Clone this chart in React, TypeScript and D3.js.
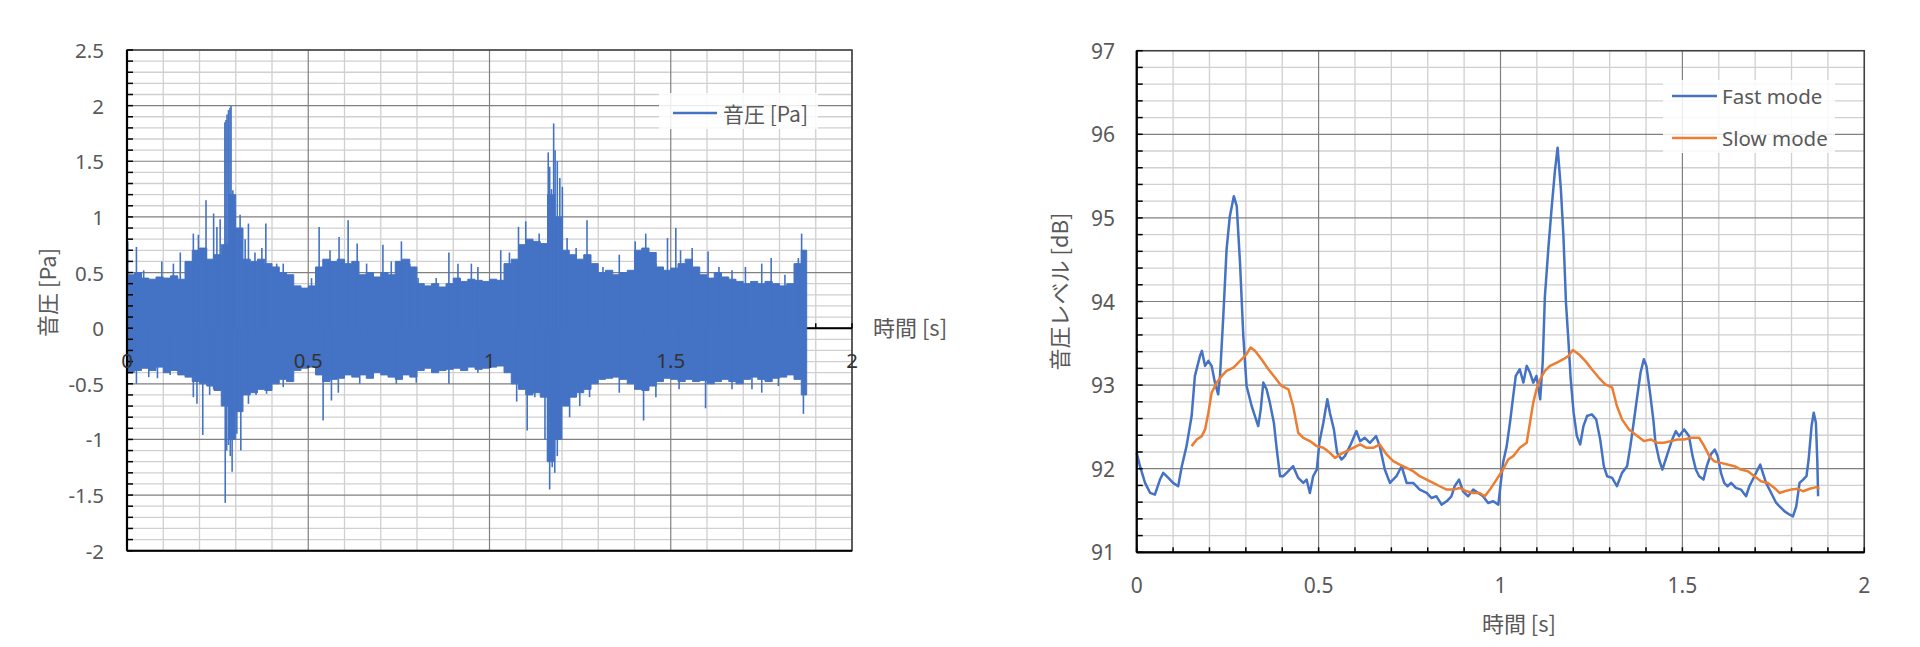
import React from 'react';
import * as d3 from 'd3';

// ---------- Left chart: 音圧 [Pa] waveform (envelope read per 0.02 s bin + individual peaks) ----------
const ENV_T = [
  0.00, 0.02, 0.04, 0.06, 0.08, 0.10, 0.12, 0.14, 0.16, 0.18,
  0.20, 0.22, 0.24, 0.26, 0.28, 0.30, 0.32, 0.34, 0.36, 0.38,
  0.40, 0.42, 0.44, 0.46, 0.48, 0.50, 0.52, 0.54, 0.56, 0.58,
  0.60, 0.62, 0.64, 0.66, 0.68, 0.70, 0.72, 0.74, 0.76, 0.78,
  0.80, 0.82, 0.84, 0.86, 0.88, 0.90, 0.92, 0.94, 0.96, 0.98,
  1.00, 1.02, 1.04, 1.06, 1.08, 1.10, 1.12, 1.14, 1.16, 1.18,
  1.20, 1.22, 1.24, 1.26, 1.28, 1.30, 1.32, 1.34, 1.36, 1.38,
  1.40, 1.42, 1.44, 1.46, 1.48, 1.50, 1.52, 1.54, 1.56, 1.58,
  1.60, 1.62, 1.64, 1.66, 1.68, 1.70, 1.72, 1.74, 1.76, 1.78,
  1.80, 1.82, 1.84, 1.86, 1.875,
];
const ENV_UP = [
  0.48, 0.50, 0.45, 0.44, 0.46, 0.45, 0.47, 0.44, 0.60, 0.70,
  0.72, 0.62, 0.66, 0.75, 1.20, 0.90, 0.62, 0.60, 0.62, 0.58,
  0.55, 0.50, 0.48, 0.38, 0.36, 0.38, 0.55, 0.62, 0.60, 0.62,
  0.58, 0.60, 0.48, 0.50, 0.46, 0.50, 0.48, 0.60, 0.62, 0.55,
  0.40, 0.38, 0.40, 0.37, 0.40, 0.45, 0.42, 0.44, 0.43, 0.42,
  0.44, 0.43, 0.58, 0.62, 0.75, 0.80, 0.78, 0.76, 1.20, 1.00,
  0.70, 0.66, 0.62, 0.66, 0.58, 0.50, 0.52, 0.48, 0.50, 0.52,
  0.70, 0.72, 0.68, 0.55, 0.52, 0.54, 0.58, 0.62, 0.55, 0.48,
  0.45, 0.50, 0.46, 0.44, 0.42, 0.40, 0.42, 0.40, 0.42, 0.40,
  0.38, 0.40, 0.58, 0.70, 0.62,
];
const ENV_DN = [
  -0.40, -0.38, -0.36, -0.38, -0.35, -0.40, -0.38, -0.42, -0.44, -0.48,
  -0.50, -0.52, -0.56, -0.70, -1.00, -0.75, -0.60, -0.58, -0.55, -0.56,
  -0.50, -0.46, -0.48, -0.38, -0.36, -0.35, -0.42, -0.48, -0.46, -0.45,
  -0.42, -0.44, -0.42, -0.45, -0.40, -0.42, -0.44, -0.46, -0.42, -0.44,
  -0.38, -0.36, -0.40, -0.38, -0.37, -0.36, -0.38, -0.35, -0.37, -0.36,
  -0.35, -0.34, -0.40, -0.50, -0.55, -0.60, -0.58, -0.62, -1.20, -1.00,
  -0.70, -0.62, -0.58, -0.55, -0.50, -0.46, -0.45, -0.44, -0.46, -0.50,
  -0.55, -0.56, -0.52, -0.48, -0.45, -0.46, -0.48, -0.46, -0.48, -0.47,
  -0.50, -0.48, -0.46, -0.48, -0.50, -0.46, -0.44, -0.46, -0.48, -0.45,
  -0.44, -0.42, -0.46, -0.60, -0.55,
];
const PEAK_UP_T = [
  0.002, 0.026, 0.046, 0.096, 0.128, 0.147, 0.183, 0.197, 0.218, 0.239,
  0.248, 0.257, 0.270, 0.273, 0.276, 0.280, 0.284, 0.287, 0.292, 0.298,
  0.312, 0.326, 0.335, 0.353, 0.372, 0.383, 0.413, 0.431, 0.509, 0.530,
  0.560, 0.585, 0.610, 0.635, 0.661, 0.706, 0.729, 0.757, 0.780, 0.803,
  0.853, 0.888, 0.913, 0.950, 0.968, 1.031, 1.055, 1.080, 1.100, 1.121,
  1.137, 1.162, 1.166, 1.171, 1.177, 1.181, 1.187, 1.194, 1.201, 1.214,
  1.239, 1.269, 1.290, 1.313, 1.358, 1.402, 1.431, 1.459, 1.491, 1.514,
  1.527, 1.559, 1.603, 1.633, 1.669, 1.706, 1.751, 1.777, 1.815, 1.852,
  1.861,
];
const PEAK_UP_V = [
  0.78, 0.73, 0.52, 0.60, 0.58, 0.68, 0.85, 0.84, 1.15, 1.03,
  0.91, 0.98, 1.85, 1.87, 1.92, 1.96, 1.98, 2.00, 1.24, 1.06,
  1.02, 0.80, 0.94, 0.68, 0.72, 0.94, 0.58, 0.58, 0.45, 0.91,
  0.70, 0.82, 0.97, 0.76, 0.58, 0.75, 0.60, 0.78, 0.58, 0.45,
  0.45, 0.68, 0.58, 0.58, 0.55, 0.70, 0.68, 0.91, 0.96, 0.78,
  0.85, 1.58, 1.45, 1.25, 1.84, 1.60, 1.50, 1.35, 1.27, 0.81,
  0.72, 0.97, 0.58, 0.55, 0.66, 0.78, 0.85, 0.58, 0.81, 0.90,
  0.70, 0.72, 0.69, 0.55, 0.52, 0.55, 0.58, 0.63, 0.48, 0.63,
  0.85,
];
const PEAK_DN_T = [
  0.026, 0.060, 0.084, 0.119, 0.183, 0.193, 0.209, 0.228, 0.239, 0.271,
  0.275, 0.280, 0.285, 0.290, 0.303, 0.314, 0.335, 0.356, 0.385, 0.431,
  0.541, 0.564, 0.583, 0.642, 0.743, 0.798, 0.888, 0.968, 1.075, 1.104,
  1.125, 1.153, 1.160, 1.166, 1.173, 1.180, 1.187, 1.194, 1.221, 1.249,
  1.276, 1.358, 1.425, 1.459, 1.523, 1.596, 1.669, 1.724, 1.751, 1.797,
  1.866,
];
const PEAK_DN_V = [
  -0.50, -0.44, -0.45, -0.42, -0.62, -0.68, -0.96, -0.60, -0.55, -1.57,
  -1.10, -1.05, -1.15, -1.29, -0.95, -1.10, -0.68, -0.60, -0.59, -0.53,
  -0.83, -0.65, -0.58, -0.50, -0.50, -0.49, -0.50, -0.40, -0.66, -0.92,
  -0.62, -1.00, -1.20, -1.45, -1.25, -1.30, -1.15, -1.00, -0.80, -0.70,
  -0.62, -0.58, -0.83, -0.62, -0.55, -0.72, -0.55, -0.55, -0.58, -0.52,
  -0.77,
];
const LEFT_Y_TICKS = ['2.5', '2', '1.5', '1', '0.5', '0', '-0.5', '-1', '-1.5', '-2'];
const LEFT_X_TICKS = ['0', '0.5', '1', '1.5', '2'];

// ---------- Right chart: 音圧レベル [dB] ----------
const FAST_T = [
  0, 0.009, 0.023, 0.037, 0.05, 0.064, 0.073, 0.087, 0.1, 0.114,
  0.124, 0.137, 0.151, 0.16, 0.174, 0.179, 0.188, 0.197, 0.206, 0.215,
  0.224, 0.229, 0.238, 0.247, 0.256, 0.267, 0.275, 0.284, 0.293, 0.302,
  0.316, 0.325, 0.334, 0.341, 0.348, 0.357, 0.366, 0.377, 0.385, 0.394,
  0.403, 0.412, 0.43, 0.444, 0.458, 0.467, 0.476, 0.485, 0.495, 0.502,
  0.513, 0.524, 0.531, 0.542, 0.551, 0.563, 0.572, 0.586, 0.604, 0.614,
  0.627, 0.641, 0.658, 0.668, 0.682, 0.696, 0.714, 0.728, 0.742, 0.76,
  0.778, 0.797, 0.81, 0.824, 0.838, 0.852, 0.865, 0.874, 0.886, 0.897,
  0.911, 0.925, 0.939, 0.952, 0.966, 0.98, 0.994, 1.007, 1.017, 1.026,
  1.035, 1.042, 1.053, 1.063, 1.072, 1.081, 1.09, 1.099, 1.109, 1.116,
  1.122, 1.132, 1.141, 1.15, 1.157, 1.161, 1.166, 1.173, 1.18, 1.187,
  1.193, 1.201, 1.21, 1.219, 1.228, 1.238, 1.251, 1.263, 1.274, 1.284,
  1.293, 1.307, 1.32, 1.334, 1.348, 1.357, 1.366, 1.376, 1.385, 1.394,
  1.401, 1.411, 1.42, 1.426, 1.436, 1.445, 1.454, 1.463, 1.472, 1.482,
  1.491, 1.505, 1.518, 1.528, 1.537, 1.546, 1.558, 1.567, 1.578, 1.589,
  1.597, 1.606, 1.615, 1.624, 1.634, 1.647, 1.661, 1.675, 1.684, 1.698,
  1.707, 1.714, 1.721, 1.73, 1.744, 1.758, 1.767, 1.781, 1.795, 1.804,
  1.813, 1.822, 1.832, 1.841, 1.847, 1.855, 1.861, 1.867, 1.871, 1.873,
];
const FAST_DB = [
  92.19, 92.03, 91.83, 91.71, 91.69, 91.87, 91.95, 91.89, 91.83, 91.79,
  92.03, 92.27, 92.63, 93.11, 93.35, 93.41, 93.23, 93.29, 93.23, 93.03,
  92.89, 93.11, 93.82, 94.62, 95.02, 95.26, 95.14, 94.46, 93.59, 92.99,
  92.75, 92.63, 92.51, 92.71, 93.03, 92.95, 92.79, 92.55, 92.23, 91.91,
  91.91, 91.95, 92.03, 91.89, 91.83, 91.87, 91.71, 91.91, 91.99, 92.31,
  92.55, 92.83, 92.67, 92.47, 92.19, 92.11, 92.15, 92.27, 92.45, 92.33,
  92.37, 92.31, 92.39, 92.27, 91.99, 91.83, 91.91, 92.03, 91.83, 91.83,
  91.75, 91.71, 91.65, 91.67, 91.57, 91.61, 91.67, 91.79, 91.87, 91.73,
  91.67, 91.75, 91.71, 91.67, 91.59, 91.61, 91.57, 92.07, 92.27, 92.55,
  92.87, 93.11, 93.19, 93.03, 93.23, 93.15, 93.03, 93.11, 92.83, 93.27,
  94.06, 94.66, 95.14, 95.58, 95.84, 95.62, 95.34, 94.78, 93.98, 93.51,
  93.07, 92.67, 92.39, 92.29, 92.51, 92.63, 92.65, 92.59, 92.35, 92.03,
  91.91, 91.89, 91.79, 91.95, 92.03, 92.27, 92.55, 92.87, 93.15, 93.31,
  93.23, 92.91, 92.59, 92.31, 92.11, 91.99, 92.11, 92.23, 92.35, 92.45,
  92.39, 92.47, 92.39, 92.15, 91.99, 91.91, 91.87, 92.03, 92.17, 92.23,
  92.15, 91.95, 91.83, 91.79, 91.83, 91.77, 91.75, 91.67, 91.79, 91.91,
  91.99, 92.05, 91.95, 91.83, 91.71, 91.59, 91.55, 91.49, 91.45, 91.43,
  91.55, 91.83, 91.87, 91.91, 92.11, 92.51, 92.67, 92.55, 92.07, 91.67,
];
const SLOW_T = [
  0.151, 0.165, 0.179, 0.188, 0.197, 0.206, 0.22, 0.234, 0.247, 0.266,
  0.284, 0.302, 0.313, 0.325, 0.343, 0.362, 0.38, 0.398, 0.417, 0.43,
  0.444, 0.458, 0.476, 0.495, 0.513, 0.531, 0.545, 0.559, 0.577, 0.595,
  0.614, 0.632, 0.65, 0.668, 0.687, 0.705, 0.723, 0.742, 0.76, 0.778,
  0.797, 0.815, 0.833, 0.852, 0.87, 0.888, 0.907, 0.925, 0.943, 0.957,
  0.971, 0.989, 1.007, 1.021, 1.035, 1.053, 1.072, 1.081, 1.09, 1.099,
  1.109, 1.122, 1.136, 1.155, 1.173, 1.187, 1.199, 1.215, 1.233, 1.251,
  1.27, 1.288, 1.307, 1.32, 1.334, 1.353, 1.376, 1.394, 1.413, 1.431,
  1.449, 1.468, 1.486, 1.505, 1.523, 1.546, 1.56, 1.574, 1.587, 1.606,
  1.624, 1.643, 1.661, 1.68, 1.698, 1.716, 1.735, 1.753, 1.767, 1.781,
  1.799, 1.818, 1.832, 1.85, 1.868, 1.877,
];
const SLOW_DB = [
  92.27, 92.35, 92.39, 92.47, 92.67, 92.91, 93.03, 93.11, 93.17, 93.21,
  93.29, 93.37, 93.45, 93.41, 93.31, 93.19, 93.09, 92.99, 92.95, 92.75,
  92.43, 92.37, 92.33, 92.27, 92.25, 92.19, 92.13, 92.17, 92.21, 92.25,
  92.29, 92.25, 92.25, 92.29, 92.17, 92.09, 92.05, 92.01, 91.97, 91.91,
  91.87, 91.83, 91.79, 91.75, 91.75, 91.77, 91.73, 91.71, 91.71, 91.67,
  91.75, 91.87, 91.99, 92.11, 92.15, 92.25, 92.31, 92.55, 92.79, 92.95,
  93.07, 93.17, 93.23, 93.27, 93.31, 93.35, 93.42, 93.37, 93.29, 93.19,
  93.09, 93.01, 92.97, 92.75, 92.59, 92.47, 92.39, 92.33, 92.35, 92.31,
  92.31, 92.33, 92.35, 92.35, 92.37, 92.37, 92.27, 92.15, 92.09, 92.07,
  92.05, 92.03, 91.99, 91.97, 91.91, 91.85, 91.83, 91.77, 91.71, 91.73,
  91.75, 91.76, 91.73, 91.76, 91.78, 91.76,
];
const RIGHT_Y_TICKS = ['97', '96', '95', '94', '93', '92', '91'];
const RIGHT_X_TICKS = ['0', '0.5', '1', '1.5', '2'];
const SERIES_NAMES = ['Fast mode', 'Slow mode'];
const LEFT_LEGEND = '音圧 [Pa]';

const BLUE = '#4472C4';
const ORANGE = '#ED7D31';
const TXT = '#595959';
const FONT = '"Noto Sans", "Noto Sans CJK JP", sans-serif';
const JFONT = '"Noto Sans CJK JP", "Noto Sans", sans-serif';
const MAJ = '#808080';
const MIN = '#d0d0d0';

function steps(a: number, b: number, s: number) {
  const n = Math.round((b - a) / s);
  return d3.range(n + 1).map((i) => +(a + i * s).toFixed(4));
}
const isMajor = (v: number, m: number) => Math.abs(v / m - Math.round(v / m)) < 1e-6;

export default function App() {
  const lx = d3.scaleLinear().domain([0, 2]).range([127, 852]);
  const ly = d3.scaleLinear().domain([-2, 2.5]).range([550.7, 50]);
  const rx = d3.scaleLinear().domain([0, 2]).range([1136.7, 1864.3]);
  const ry = d3.scaleLinear().domain([91, 97]).range([552.3, 50.7]);

  const env = ENV_T.map((t, i) => ({ t, u: ENV_UP[i], d: ENV_DN[i] }));
  const areaGen = d3
    .area<{ t: number; u: number; d: number }>()
    .x((p) => lx(p.t))
    .y0((p) => ly(p.d))
    .y1((p) => ly(p.u))
    .curve(d3.curveStepAfter);

  const fastLine = d3
    .line<number>()
    .x((_, i) => rx(FAST_T[i]))
    .y((v) => ry(v));
  const slowLine = d3
    .line<number>()
    .x((_, i) => rx(SLOW_T[i]))
    .y((v) => ry(v));

  const lxs = steps(0, 2, 0.1);
  const lys = steps(-2, 2.5, 0.1);
  const rxs = steps(0, 2, 0.1);
  const rys = steps(91, 97, 0.2);

  const [l0, l1] = lx.range();
  const [lb, lt] = ly.range();
  const [r0, r1] = rx.range();
  const [rb, rt] = ry.range();

  return (
    <svg
      width={1920}
      height={647}
      style={{ position: 'absolute', left: 0, top: 0, background: '#fff' }}
      fontFamily={FONT}
    >
      <rect x={0} y={0} width={1920} height={647} fill="#fff" />

      {/* ===== LEFT CHART ===== */}
      <g>
        {lxs.filter((v) => !isMajor(v, 0.5)).map((v) => (
          <line key={'lxm' + v} x1={lx(v)} x2={lx(v)} y1={lt} y2={lb} stroke={MIN} strokeWidth={1.3} />
        ))}
        {lys.filter((v) => !isMajor(v, 0.5)).map((v) => (
          <line key={'lym' + v} x1={l0} x2={l1} y1={ly(v)} y2={ly(v)} stroke={MIN} strokeWidth={1.3} />
        ))}
        {lxs.filter((v) => isMajor(v, 0.5)).map((v) => (
          <line key={'lxM' + v} x1={lx(v)} x2={lx(v)} y1={lt} y2={lb} stroke={MAJ} strokeWidth={1.2} />
        ))}
        {lys.filter((v) => isMajor(v, 0.5)).map((v) => (
          <line key={'lyM' + v} x1={l0} x2={l1} y1={ly(v)} y2={ly(v)} stroke={MAJ} strokeWidth={1.2} />
        ))}
        <rect x={l0} y={lt} width={l1 - l0} height={lb - lt} fill="none" stroke="#404040" strokeWidth={1.5} />

        <line x1={l0} x2={l1} y1={ly(0)} y2={ly(0)} stroke="#000" strokeWidth={2} />
        {lxs.map((v) => (
          <line key={'lxt' + v} x1={lx(v)} x2={lx(v)} y1={ly(0)} y2={ly(0) - 5} stroke="#000" strokeWidth={1.5} />
        ))}

        <path d={areaGen(env) || ''} fill={BLUE} stroke={BLUE} strokeWidth={1} />
        {PEAK_UP_T.map((t, i) => (
          <line key={'pu' + i} x1={lx(t)} x2={lx(t)} y1={ly(0)} y2={ly(PEAK_UP_V[i])} stroke={BLUE} strokeWidth={1.6} />
        ))}
        {PEAK_DN_T.map((t, i) => (
          <line key={'pd' + i} x1={lx(t)} x2={lx(t)} y1={ly(0)} y2={ly(PEAK_DN_V[i])} stroke={BLUE} strokeWidth={1.6} />
        ))}

        <line x1={l0} x2={l0} y1={lt} y2={lb} stroke="#000" strokeWidth={2.2} />
        <line x1={l0} x2={l1} y1={lb} y2={lb} stroke="#000" strokeWidth={2} />
        {lys.map((v) => (
          <line key={'lyt' + v} x1={l0} x2={l0 + 6} y1={ly(v)} y2={ly(v)} stroke="#000" strokeWidth={1.5} />
        ))}
        {LEFT_Y_TICKS.map((s) => (
          <text key={'lyl' + s} x={104} y={ly(+s)} textAnchor="end" dominantBaseline="central" fontSize={20.5} fill={TXT}>
            {s}
          </text>
        ))}
        {LEFT_X_TICKS.map((s) => (
          <text key={'lxl' + s} x={lx(+s)} y={ly(0) + 32} textAnchor="middle" dominantBaseline="central" fontSize={20.5} fill="#333">
            {s}
          </text>
        ))}
        <text x={873} y={ly(0) - 2} dominantBaseline="central" fontSize={22} fill={TXT} fontFamily={JFONT}>
          時間 [s]
        </text>
        <text
          transform={`translate(46,${(lt + lb) / 2 - 8}) rotate(-90)`}
          textAnchor="middle"
          dominantBaseline="central"
          fontSize={22}
          fill={TXT}
          fontFamily={JFONT}
        >
          音圧 [Pa]
        </text>

        <rect x={659} y={93} width={159} height={36} fill="#fff" opacity={0.85} />
        <line x1={673} x2={717} y1={113} y2={113} stroke={BLUE} strokeWidth={2.5} />
        <text x={723} y={113} dominantBaseline="central" fontSize={21} fill={TXT} fontFamily={JFONT}>
          {LEFT_LEGEND}
        </text>
      </g>

      {/* ===== RIGHT CHART ===== */}
      <g>
        {rxs.filter((v) => !isMajor(v, 0.5)).map((v) => (
          <line key={'rxm' + v} x1={rx(v)} x2={rx(v)} y1={rt} y2={rb} stroke={MIN} strokeWidth={1.3} />
        ))}
        {rys.filter((v) => !isMajor(v, 1)).map((v) => (
          <line key={'rym' + v} x1={r0} x2={r1} y1={ry(v)} y2={ry(v)} stroke={MIN} strokeWidth={1.3} />
        ))}
        {rxs.filter((v) => isMajor(v, 0.5)).map((v) => (
          <line key={'rxM' + v} x1={rx(v)} x2={rx(v)} y1={rt} y2={rb} stroke={MAJ} strokeWidth={1.2} />
        ))}
        {rys.filter((v) => isMajor(v, 1)).map((v) => (
          <line key={'ryM' + v} x1={r0} x2={r1} y1={ry(v)} y2={ry(v)} stroke={MAJ} strokeWidth={1.2} />
        ))}
        <rect x={r0} y={rt} width={r1 - r0} height={rb - rt} fill="none" stroke="#404040" strokeWidth={1.5} />

        <rect x={1663} y={80} width={172} height={73} fill="#fff" opacity={0.85} />

        <path d={fastLine(FAST_DB) || ''} fill="none" stroke={BLUE} strokeWidth={2.5} strokeLinejoin="round" />
        <path d={slowLine(SLOW_DB) || ''} fill="none" stroke={ORANGE} strokeWidth={2.5} strokeLinejoin="round" />

        <line x1={r0} x2={r0} y1={rt} y2={rb} stroke="#000" strokeWidth={2.2} />
        <line x1={r0} x2={r1} y1={rb} y2={rb} stroke="#000" strokeWidth={2.2} />
        {rys.map((v) => (
          <line key={'ryt' + v} x1={r0} x2={r0 + 6} y1={ry(v)} y2={ry(v)} stroke="#000" strokeWidth={1.5} />
        ))}
        {rxs.map((v) => (
          <line key={'rxt' + v} x1={rx(v)} x2={rx(v)} y1={rb} y2={rb - 5} stroke="#000" strokeWidth={1.5} />
        ))}
        {RIGHT_Y_TICKS.map((s) => (
          <text key={'ryl' + s} x={1115} y={ry(+s)} textAnchor="end" dominantBaseline="central" fontSize={21} fill={TXT}>
            {s}
          </text>
        ))}
        {RIGHT_X_TICKS.map((s) => (
          <text key={'rxl' + s} x={rx(+s)} y={585} textAnchor="middle" dominantBaseline="central" fontSize={21} fill={TXT}>
            {s}
          </text>
        ))}
        <text x={1519} y={622} textAnchor="middle" dominantBaseline="central" fontSize={22} fill={TXT} fontFamily={JFONT}>
          時間 [s]
        </text>
        <text
          transform={`translate(1058,${(rt + rb) / 2 - 10}) rotate(-90)`}
          textAnchor="middle"
          dominantBaseline="central"
          fontSize={22}
          fill={TXT}
          fontFamily={JFONT}
        >
          音圧レベル [dB]
        </text>

        <line x1={1672} x2={1717} y1={96} y2={96} stroke={BLUE} strokeWidth={2.5} />
        <text x={1722} y={96} dominantBaseline="central" fontSize={20.5} fill={TXT}>
          {SERIES_NAMES[0]}
        </text>
        <line x1={1672} x2={1717} y1={138} y2={138} stroke={ORANGE} strokeWidth={2.5} />
        <text x={1722} y={138} dominantBaseline="central" fontSize={20.5} fill={TXT}>
          {SERIES_NAMES[1]}
        </text>
      </g>
    </svg>
  );
}
